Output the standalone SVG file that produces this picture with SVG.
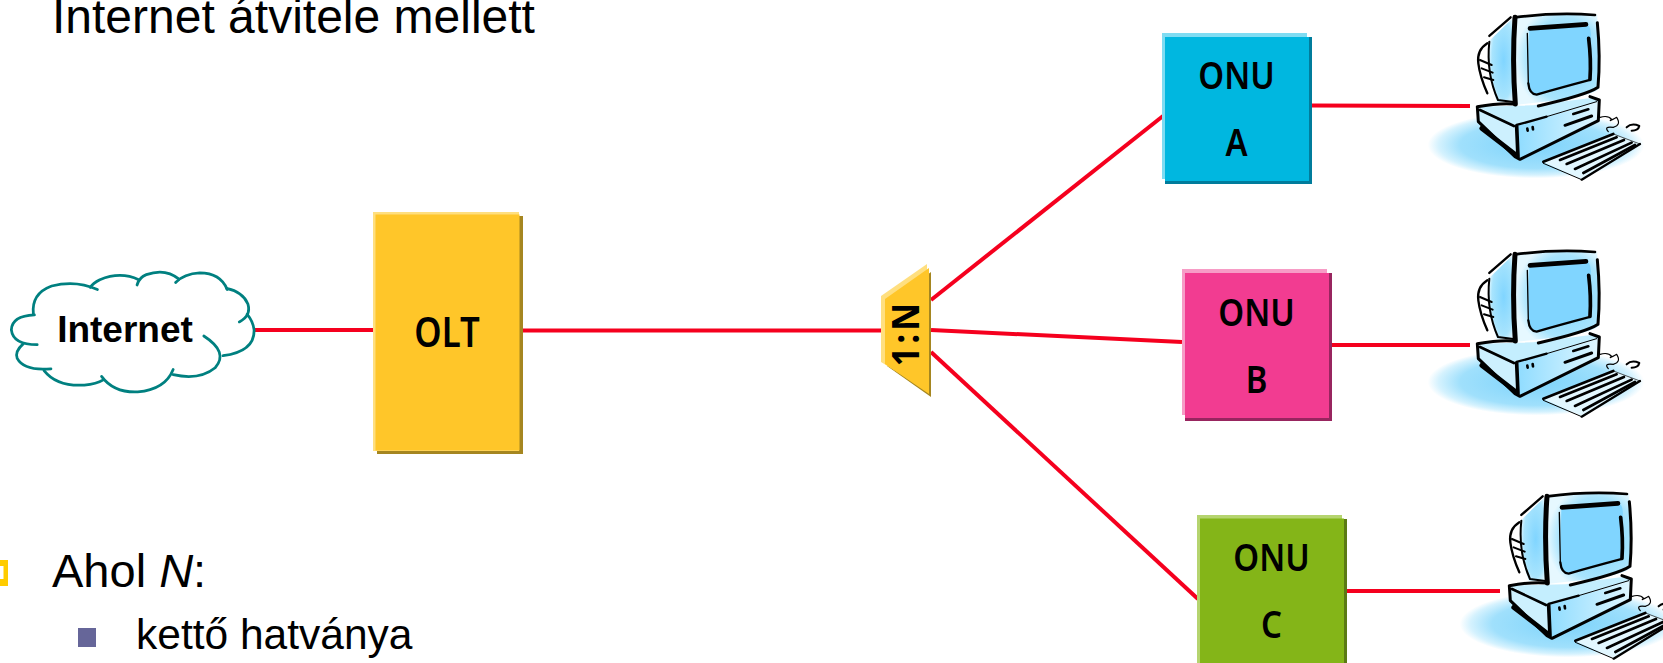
<svg xmlns="http://www.w3.org/2000/svg" width="1663" height="663" viewBox="0 0 1663 663">
<style>
.s{font-family:"Liberation Sans",Arial,sans-serif;fill:#000}
.l{font-family:"Noto Sans","DejaVu Sans",sans-serif;font-weight:600;font-size:31px;text-anchor:middle;fill:#000}
.c{fill:none;stroke:#f5001e;stroke-width:4}
.k{fill:none;stroke:#000;stroke-linecap:round;stroke-linejoin:round}
</style>
<defs>
<radialGradient id="halo" cx=".5" cy=".5" r=".5"><stop offset="0" stop-color="#7dd3fb"/><stop offset=".7" stop-color="#a0e0fc"/><stop offset=".9" stop-color="#d5f2fe"/><stop offset="1" stop-color="#fff"/></radialGradient>
<radialGradient id="mon" cx=".6" cy=".5" r=".6"><stop offset="0" stop-color="#80d5ff"/><stop offset=".75" stop-color="#a8e4fd"/><stop offset="1" stop-color="#e6f8ff"/></radialGradient>
<linearGradient id="front" x1="0" y1="0" x2="1" y2="0"><stop offset="0" stop-color="#8fdcff"/><stop offset="1" stop-color="#dff6ff"/></linearGradient>
<symbol id="pc" overflow="visible">
<g transform="scale(.3333)">
<ellipse cx="408" cy="435" rx="325" ry="100" fill="url(#halo)"/>
<path d="M265 125L338 55L342 305L290 305Q262 220 265 125Z" fill="url(#mon)"/>
<path d="M345 48Q470 35 592 45L596 265Q590 282 480 300L345 315Z" fill="url(#mon)"/>
<path d="M388 88L560 72Q576 80 572 120L570 235Q480 262 410 285Q385 280 385 250Z" fill="#80d5ff"/>
<path d="M235 320L345 378L595 305L590 292L400 316Z" fill="#c4eefe"/>
<path d="M350 378L596 305L596 362L360 475Z" fill="url(#front)"/>
<path d="M235 320L350 378L355 475L240 390Z" fill="#cdf0fe"/>
<path d="M430 487L640 402L720 430L545 537Z" fill="#e2f7ff"/>
<g class="k">
<path d="M346 52Q470 36 585 45" stroke-width="8"/>
<path d="M345 52Q336 180 346 312" stroke-width="15"/>
<path d="M592 68Q602 170 594 262Q560 285 415 318" stroke-width="9"/>
<path d="M390 85L558 73" stroke-width="14"/>
<path d="M566 115Q574 180 570 238" stroke-width="11"/>
<path d="M570 240Q480 264 410 284Q388 282 385 250" stroke-width="7"/>
<path d="M382 100L385 250" stroke-width="4"/>
<path d="M332 52L268 108" stroke-width="7"/>
<path d="M262 130Q230 150 235 190Q240 230 262 280" stroke-width="7"/>
<path d="M240 180L275 195M245 205L278 218M252 232L280 240" stroke-width="6"/>
<path d="M268 125Q258 220 294 300L340 306" stroke-width="6"/>
<path d="M232 320Q300 308 342 312M232 320L235 365L345 470L360 478L595 362L598 300L570 290" stroke-width="9"/>
<path d="M240 330L342 378" stroke-width="8"/>
<path d="M245 385L345 462" stroke-width="14"/>
<path d="M350 378L354 470" stroke-width="11"/>
<path d="M350 375L440 350" stroke-width="7"/>
<path d="M440 350L590 305" stroke-width="3"/>
<path d="M520 342L565 328" stroke-width="8"/>
<path d="M495 376L575 348" stroke-width="9"/>
<path d="M382 386L383 392M398 381L399 388" stroke-width="8"/>
<path d="M600 352Q625 345 635 358Q622 368 650 352Q665 375 640 382Q610 378 625 395" stroke-width="3.500"/>
<path d="M680 382Q695 368 718 378Q715 392 695 392" stroke-width="6"/>
<path d="M430 485L640 402" stroke-width="8"/>
<path d="M430 490L545 539" stroke-width="3"/>
<path d="M545 539L720 432" stroke-width="7"/>
<path d="M640 402L720 432" stroke-width="2"/>
<path d="M480 480L650 412M500 492L672 420M525 507L695 428M550 519L705 435" stroke-width="8"/>
</g>
</g>
</symbol>
</defs>

<g id="text">
<text class="s" x="52" y="33" font-size="48">Internet átvitele mellett</text>
<text class="s" x="52" y="587" font-size="47">Ahol <tspan font-style="italic">N</tspan>:</text>
<text class="s" x="136" y="649" font-size="42.500">kettő hatványa</text>
<path d="M-6 560H8V586H-6Z M-6 566V579H3.500V566Z" fill="#ffcc00" fill-rule="evenodd"/>
<rect x="78" y="628" width="18" height="19" fill="#666699"/>
</g>

<g id="connectors">
<path class="c" d="M255 330H374"/>
<path class="c" d="M523 330.500H886"/>
<path class="c" d="M931 300L1163 116"/>
<path class="c" d="M931 330L1182 342"/>
<path class="c" d="M931 352L1198 599"/>
<path class="c" d="M1312 105.500L1470 106"/>
<path class="c" d="M1331 345H1470"/>
<path class="c" d="M1346 591H1500"/>
</g>

<g id="internet">
<g transform="translate(0 197) scale(.3443 .345)" fill="none" stroke="#008080" stroke-width="8" stroke-linecap="round">
<path d="M100 342Q35 345 33 385Q38 428 108 428"/>
<path d="M68 425Q42 448 50 468Q70 505 148 498"/>
<path d="M128 503Q165 550 245 545Q280 542 300 530"/>
<path d="M295 520Q330 568 400 565Q480 558 503 500"/>
<path d="M503 515Q580 532 625 495Q665 450 592 403"/>
<path d="M648 460Q740 448 738 385Q735 360 718 340"/>
<path d="M695 362Q730 345 720 310Q705 275 658 265"/>
<path d="M660 268Q640 220 580 220Q535 222 510 248"/>
<path d="M520 238Q480 205 425 225Q405 232 398 255"/>
<path d="M403 240Q350 215 290 240Q270 250 262 262"/>
<path d="M283 268Q220 240 150 258Q90 280 97 340"/>
</g>
<text class="s" x="125" y="342" font-size="37" font-weight="700" text-anchor="middle">Internet</text>
</g>

<g id="olt">
<rect x="377" y="216" width="146" height="238" fill="#a58620"/>
<rect x="373" y="212" width="146" height="239" fill="#ffdf7f"/>
<rect x="375.500" y="214.500" width="144" height="236" fill="#ffc629"/>
<text class="l" transform="translate(447 347) scale(1.120 1.350)">OLT</text>
</g>

<g id="splitter">
<path d="M887 305L931 272V397L887 366Z" fill="#a58620"/>
<path d="M881 296L927 264V390L881 362Z" fill="#ffdf7f"/>
<path d="M885 299L929 268V394L885 364Z" fill="#ffc629"/>
<text class="l" transform="translate(919 333) rotate(-90) scale(1.100 1.220)" style="letter-spacing:3px;font-weight:700">1:N</text>
</g>

<g id="onu-a">
<rect x="1165" y="37" width="147" height="147" fill="#007c9c"/>
<rect x="1162" y="33" width="145" height="146" fill="#7fdcf2"/>
<rect x="1165" y="37" width="144" height="144" fill="#00b7e0"/>
<text class="l" transform="translate(1236.500 89) scale(1.060 1.220)">ONU</text>
<text class="l" transform="translate(1236.500 156) scale(1.060 1.220)">A</text>
</g>

<g id="onu-b">
<rect x="1185" y="273" width="147" height="148" fill="#98255f"/>
<rect x="1182" y="269" width="145" height="146" fill="#f79cc6"/>
<rect x="1185" y="273" width="144" height="145" fill="#f23c91"/>
<text class="l" transform="translate(1256.500 326) scale(1.060 1.220)">ONU</text>
<text class="l" transform="translate(1256.500 393) scale(1.060 1.220)">B</text>
</g>

<g id="onu-c">
<rect x="1200" y="519" width="147" height="144" fill="#5b7a14"/>
<rect x="1197" y="515" width="145" height="148" fill="#b5d46f"/>
<rect x="1200" y="518.500" width="144" height="144.500" fill="#84b518"/>
<text class="l" transform="translate(1271.500 571) scale(1.060 1.220)">ONU</text>
<text class="l" transform="translate(1271.500 638) scale(1.060 1.220)">C</text>
</g>

<g id="computer-a"><use href="#pc" x="1400" y="0"/></g>
<g id="computer-b"><use href="#pc" x="1400" y="237"/></g>
<g id="computer-c"><use href="#pc" x="1432" y="479"/></g>
</svg>
